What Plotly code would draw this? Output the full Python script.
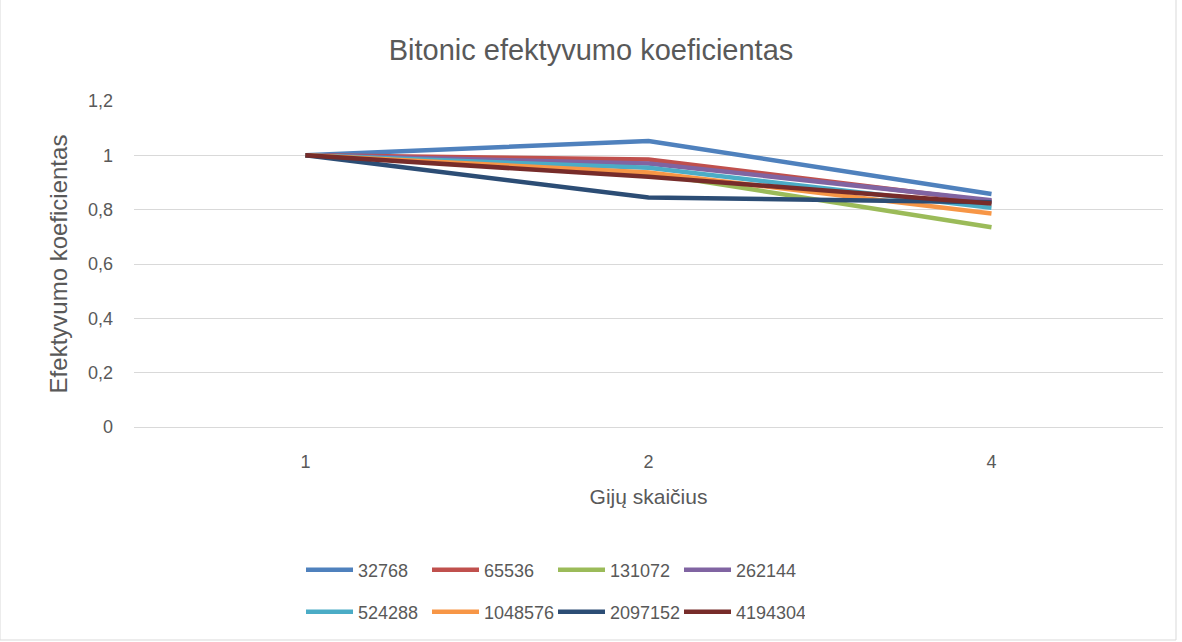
import plotly.graph_objects as go

threads = ["1", "2", "4"]
series_names = ["32768", "65536", "131072", "262144",
                "524288", "1048576", "2097152", "4194304"]
values = {
    "32768":   [1.0, 1.053, 0.858],
    "65536":   [1.0, 0.985, 0.830],
    "131072":  [1.0, 0.935, 0.735],
    "262144":  [1.0, 0.970, 0.835],
    "524288":  [1.0, 0.954, 0.807],
    "1048576": [1.0, 0.937, 0.786],
    "2097152": [1.0, 0.845, 0.827],
    "4194304": [1.0, 0.921, 0.823],
}
colors = ["#4F81BD", "#C0504D", "#9BBB59", "#8064A2",
          "#4BACC6", "#F79646", "#2C4D75", "#772C2A"]
y_tickvals = [0, 0.2, 0.4, 0.6, 0.8, 1.0, 1.2]
y_ticktext = ["0", "0,2", "0,4", "0,6", "0,8", "1", "1,2"]

FONT = "Liberation Sans"
TXT = "#595959"

# plot area in pixels
L, R, T, B = 134, 19, 101, 215
W, H = 1182, 642
PH = H - T - B


def ypaper(py):
    return (H - B - py) / PH


fig = go.Figure()
for i, (name, col) in enumerate(zip(series_names, colors)):
    fig.add_trace(go.Scatter(
        x=threads, y=values[name], name=name, mode="lines",
        line=dict(color=col, width=4.5),
        legend="legend" if i < 4 else "legend2",
    ))

legend_common = dict(
    orientation="h", xanchor="left", x=(301 - L) / (W - L - R),
    yanchor="middle", bgcolor="rgba(0,0,0,0)",
    font=dict(family=FONT, size=18, color=TXT),
    entrywidth=64, entrywidthmode="pixels", itemwidth=47,
)

fig.update_layout(
    width=W, height=H,
    paper_bgcolor="white", plot_bgcolor="white",
    margin=dict(l=L, r=R, t=T, b=B),
    title=dict(text="Bitonic efektyvumo koeficientas", x=0.5, xanchor="center",
               y=1 - 50 / H, yanchor="middle",
               font=dict(family=FONT, size=29, color=TXT)),
    font=dict(family=FONT, color=TXT),
    showlegend=True,
    legend=dict(y=ypaper(570), **legend_common),
    legend2=dict(y=ypaper(612), **legend_common),
)
fig.update_xaxes(
    type="category", range=[-0.5, 2.5],
    showgrid=False, showline=False, zeroline=False,
    ticks="", ticklabelstandoff=22, tickfont=dict(size=18, color=TXT),
    title=dict(text="Gijų skaičius", font=dict(size=21, color=TXT), standoff=18),
)
fig.update_yaxes(
    range=[0, 1.2], tickvals=y_tickvals, ticktext=y_ticktext,
    showgrid=True, gridcolor="#D9D9D9", gridwidth=1,
    zeroline=True, zerolinecolor="#D9D9D9", zerolinewidth=1,
    showline=False, ticks="", ticklabelstandoff=20,
    tickfont=dict(size=18, color=TXT),
    title=dict(text="Efektyvumo koeficientas", font=dict(size=24, color=TXT), standoff=13),
)
fig.add_shape(type="rect", xref="paper", yref="paper",
              x0=-L / (W - L - R), x1=(1176 - L) / (W - L - R),
              y0=ypaper(640), y1=ypaper(-2),
              line=dict(color="#D9D9D9", width=1), layer="below")
fig.write_html("out.html")
